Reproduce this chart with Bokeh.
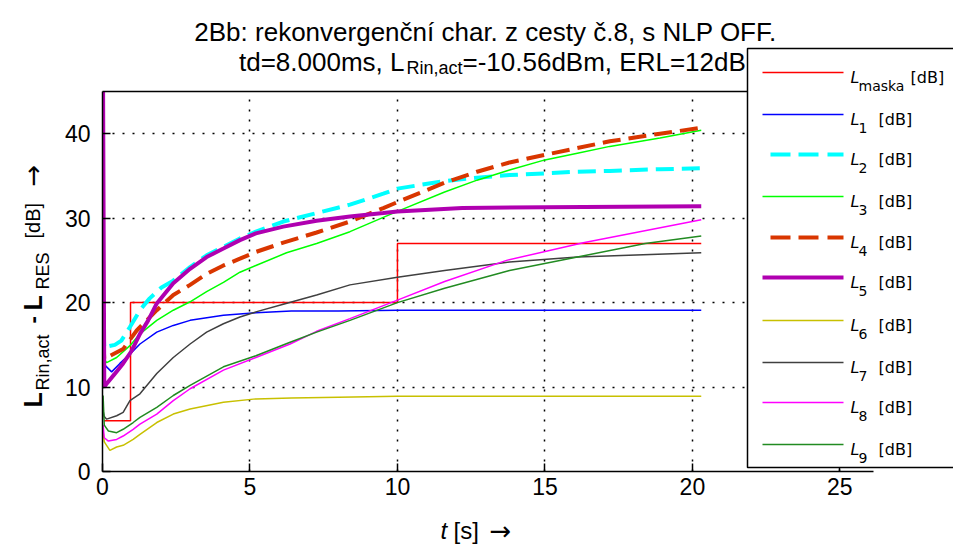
import math
from bokeh.plotting import figure
from bokeh.models import Range1d, LinearAxis, Label, BoxAnnotation, FixedTicker, GridBox, Column
from bokeh.embed import file_html
from bokeh.resources import INLINE

# ---------------- data ----------------
t_mask = [0.05, 0.95, 0.95, 10.0, 10.0, 20.3]
L_mask = [6.0, 6.0, 20.0, 20.0, 27.0, 27.0]

t1 = [0.02, 0.08, 0.31, 0.59, 0.93, 1.27, 1.84, 2.4, 2.97, 4.1, 5.2, 6.4, 8.0, 10.0, 15.0, 20.3]
L1 = [12.8, 12.6, 11.8, 12.8, 13.9, 15.1, 16.5, 17.3, 17.9, 18.5, 18.8, 19.0, 19.0, 19.1, 19.1, 19.1]

t2 = [0.04, 0.06, 0.15, 0.42, 0.64, 0.93, 1.27, 1.6, 2.0, 2.4, 2.97, 3.53, 4.1, 4.66, 5.2, 6.13,
      7.26, 8.39, 9.52, 10.0, 11.6, 12.7, 13.8, 15.0, 16.1, 17.2, 18.9, 20.3]
L2 = [17.0, 14.6, 14.8, 15.0, 15.5, 17.1, 19.1, 20.5, 21.8, 22.6, 24.2, 25.6, 26.6, 27.6, 28.4, 29.6,
      30.6, 31.6, 32.9, 33.5, 34.4, 34.8, 35.1, 35.3, 35.5, 35.6, 35.8, 35.9]

t3 = [0.02, 0.14, 0.48, 0.93, 1.27, 1.84, 2.4, 2.97, 3.53, 4.1, 4.66, 5.2, 6.24, 7.26, 8.39, 9.52,
      10.0, 11.6, 12.7, 13.8, 15.0, 16.1, 17.2, 18.9, 20.3]
L3 = [13.5, 12.9, 13.5, 14.9, 16.3, 17.9, 19.1, 20.1, 21.3, 22.4, 23.6, 24.4, 25.9, 27.0, 28.4, 30.1,
      30.8, 33.1, 34.5, 35.7, 36.9, 37.7, 38.5, 39.5, 40.4]

t4 = [0.03, 0.06, 0.25, 0.7, 1.16, 1.84, 2.4, 2.97, 3.53, 4.1, 4.66, 5.2, 6.13, 7.26, 8.39, 9.52,
      10.0, 11.6, 12.7, 13.8, 15.0, 16.1, 17.2, 18.9, 20.3]
L4 = [15.5, 13.3, 13.7, 14.5, 16.7, 19.1, 20.9, 22.1, 23.4, 24.4, 25.2, 26.0, 27.1, 28.3, 29.6, 31.2,
      31.9, 34.2, 35.5, 36.6, 37.5, 38.3, 39.1, 40.0, 40.7]

t5 = [0.02, 0.06, 0.14, 0.4, 0.7, 0.99, 1.27, 1.55, 1.84, 2.4, 2.97, 3.53, 4.1, 4.66, 5.2, 6.13,
      7.26, 8.39, 9.52, 10.0, 12.2, 15.0, 20.3]
L5 = [45.0, 10.0, 10.4, 11.5, 12.8, 14.3, 16.3, 17.9, 19.9, 22.3, 24.0, 25.4, 26.4, 27.4, 28.2, 29.0,
      29.7, 30.2, 30.6, 30.8, 31.2, 31.3, 31.4]

t6 = [0.02, 0.06, 0.25, 0.48, 0.7, 1.04, 1.27, 1.84, 2.4, 2.97, 4.1, 5.2, 6.4, 8.0, 10.0, 20.3]
L6 = [4.8, 3.5, 2.5, 2.9, 3.1, 3.8, 4.4, 5.8, 6.8, 7.4, 8.2, 8.6, 8.7, 8.8, 8.9, 8.9]

t7 = [0.02, 0.06, 0.14, 0.48, 0.7, 0.93, 1.27, 1.84, 2.4, 2.97, 3.53, 4.1, 4.66, 5.2, 6.13, 7.26,
      8.39, 10.0, 11.6, 13.8, 16.1, 20.3]
L7 = [7.2, 6.5, 6.2, 6.6, 7.0, 8.4, 9.2, 11.6, 13.5, 15.1, 16.5, 17.5, 18.3, 18.9, 19.8, 20.9,
      22.1, 23.0, 23.8, 24.8, 25.4, 25.9]

t8 = [0.02, 0.06, 0.2, 0.48, 0.7, 1.04, 1.27, 1.84, 2.4, 2.97, 4.1, 5.2, 6.36, 7.26, 8.39, 10.0,
      11.6, 13.7, 16.3, 20.3]
L8 = [5.5, 4.0, 3.6, 3.8, 4.2, 5.0, 5.6, 6.8, 8.4, 9.8, 12.0, 13.5, 15.1, 16.6, 18.1, 20.3,
      22.5, 25.0, 27.1, 29.8]

t9 = [0.02, 0.06, 0.2, 0.48, 0.7, 1.04, 1.27, 1.84, 2.4, 2.97, 4.1, 5.2, 6.36, 7.26, 8.39, 10.0,
      11.6, 13.8, 16.1, 18.4, 20.3]
L9 = [9.0, 5.5, 4.8, 4.6, 5.0, 5.8, 6.4, 7.6, 9.0, 10.2, 12.4, 13.7, 15.3, 16.5, 17.9, 20.0,
      21.7, 23.8, 25.4, 27.0, 27.9]

x_ticks = [0, 5, 10, 15, 20, 25]
y_ticks = [0, 10, 20, 30, 40]
legend_subs = ["maska", "1", "2", "3", "4", "5", "6", "7", "8", "9"]

title_line1 = "2Bb: rekonvergenční char. z cesty č.8, s NLP OFF."
title_line2 = ["td=8.000ms, L", "Rin,act", "=-10.56dBm, ERL=12dB"]

# ---------------- styles ----------------
styles = [
    ("#ff0000", 1.5, "solid"),
    ("#0000ff", 1.5, "solid"),
    ("#00ffff", 4.0, "18 8"),
    ("#00ff00", 1.5, "solid"),
    ("#d93600", 4.0, "18 8"),
    ("#b000b0", 4.0, "solid"),
    ("#c8c000", 1.5, "solid"),
    ("#404040", 1.5, "solid"),
    ("#ff00ff", 1.5, "solid"),
    ("#228b22", 1.5, "solid"),
]
series = [(t_mask, L_mask), (t1, L1), (t2, L2), (t3, L3), (t4, L4),
          (t5, L5), (t6, L6), (t7, L7), (t8, L8), (t9, L9)]

FONT = "Liberation Sans"
LFONT = "DejaVu Sans"
W, H = 953, 544

# ---------------- main plot ----------------
p = figure(width=W, height=H, output_backend="svg", toolbar_location=None,
           x_range=Range1d(0, 26.14), y_range=Range1d(0, 45),
           min_border_left=102, min_border_right=80, min_border_top=91, min_border_bottom=73)
p.title.visible = False
p.outline_line_color = None
p.background_fill_color = "white"
p.border_fill_color = "white"

for ax, ticks in ((p.xaxis, x_ticks), (p.yaxis, y_ticks)):
    ax.ticker = FixedTicker(ticks=ticks)
    ax.major_label_text_font = FONT
    ax.major_label_text_font_size = "23px"
    ax.major_label_text_color = "black"
    ax.major_tick_in = 8
    ax.major_tick_out = 0
    ax.minor_tick_line_color = None
    ax.axis_line_width = 1.5
    ax.axis_line_color = "black"
    ax.major_tick_line_color = "black"
    ax.major_tick_line_width = 1.5
p.xaxis.major_label_standoff = 6
p.yaxis.major_label_standoff = 12

top_axis = LinearAxis(ticker=FixedTicker(ticks=x_ticks), major_label_text_color=None,
                      major_tick_in=0, major_tick_out=0, minor_tick_line_color=None,
                      major_tick_line_color=None, axis_line_width=1.5, axis_line_color="black",
                      major_label_text_font_size="1px")
p.add_layout(top_axis, "above")

p.xgrid.ticker = FixedTicker(ticks=[5, 10, 15, 20, 25])
p.ygrid.ticker = FixedTicker(ticks=[10, 20, 30, 40])
for g in (p.xgrid, p.ygrid):
    g.grid_line_color = "black"
    g.grid_line_dash = "2 8"
    g.grid_line_width = 1.5
    g.grid_line_alpha = 1.0

for (t, v), (c, w, d) in zip(series, styles):
    p.line(t, v, line_color=c, line_width=w, line_dash=d)

# ---------------- overlay (texts + legend), same size, drawn on top ----------------
q = figure(width=W, height=H, output_backend="svg", toolbar_location=None,
           x_range=Range1d(0, W), y_range=Range1d(H, 0),
           x_axis_type=None, y_axis_type=None,
           min_border_left=0, min_border_right=0, min_border_top=0, min_border_bottom=0)
q.title.visible = False
q.outline_line_color = None
q.background_fill_color = None
q.border_fill_color = None


def lab(x, y, text, size, font=FONT, style="normal", align="left", baseline="alphabetic", angle=0.0):
    q.add_layout(Label(x=x, y=y, x_units="canvas", y_units="canvas", text=text,
                       text_font=font, text_font_size=f"{size}px", text_font_style=style,
                       text_align=align, text_baseline=baseline, angle=angle,
                       text_color="black"))


def box(left, right, top, bottom, fill, line=None, lw=1.0):
    q.add_layout(BoxAnnotation(left=left, right=right, top=top, bottom=bottom,
                               left_units="canvas", right_units="canvas",
                               top_units="canvas", bottom_units="canvas",
                               fill_color=fill, fill_alpha=1.0,
                               line_color=line, line_width=lw, line_alpha=1.0))


# title (two lines, second with subscript)
lab(485, 31, title_line1, 26, align="center")
lab(404, 61, title_line2[0], 26, align="right")
lab(406, 67, title_line2[1], 18)
lab(462, 61, title_line2[2], 26)

# y label (rotated, reads bottom-to-top)
A = math.pi / 2
lab(32, 407, "L", 25, style="bold", angle=A)
lab(42, 390, "Rin,act", 18, angle=A)
lab(32, 323, "-", 22, style="bold", angle=A)
lab(32, 310, "L", 25, style="bold", angle=A)
lab(42, 289, "RES", 18, angle=A)
lab(32, 238, "[dB]", 20, angle=A)
lab(32, 186, "\u2192", 26, font=LFONT, angle=A)

# x label
lab(440, 530, "t", 24, style="italic")
lab(453, 530, "[s]", 24)
lab(489, 530, "\u2192", 26, font=LFONT)

# legend
box(747, 970, 48, 467, "white", "black", 1.5)
rows = [72, 114, 154, 196, 237, 277, 320, 362, 402, 444]
for i, (y, (c, w, d)) in enumerate(zip(rows, styles)):
    if d == "solid":
        box(762, 843, y - w / 2, y + w / 2, c)
    else:
        for a, b in ((770, 790), (798, 818), (827, 843)):
            box(a, b, y - w / 2, y + w / 2, c)
    lab(850, y + 5, "L", 16, font=LFONT, style="italic")
    lab(858, y + 13, legend_subs[i], 14, font=LFONT)
    lab(910 if i == 0 else 878, y + 5, "[dB]", 16, font=LFONT)

grid = GridBox(children=[(Column(children=[p]), 0, 0), (Column(children=[q]), 0, 0)])

with open("out.html", "w", encoding="utf-8") as f:
    f.write(file_html(grid, INLINE))
